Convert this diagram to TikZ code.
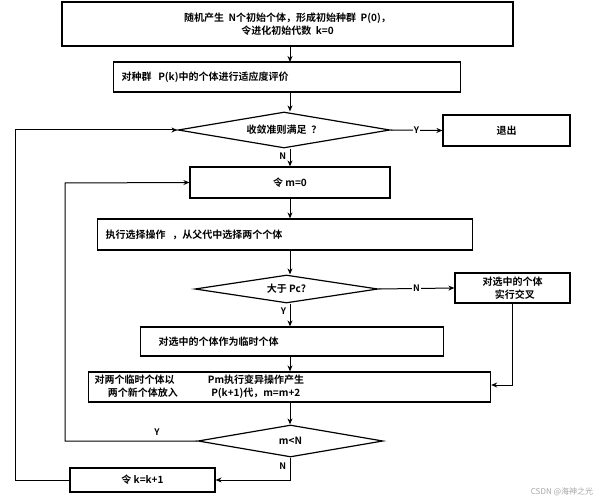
\documentclass[tikz,border=0pt]{standalone}
\usepackage{fontspec}
\setmainfont{Noto Sans CJK SC}[BoldFont={* Bold}]
\usetikzlibrary{shapes.geometric,arrows.meta}
\begin{document}
\begin{tikzpicture}[x=1pt,y=-1pt,
 box/.style={draw,line width=1.2pt,inner sep=0pt,font=\bfseries\fontsize{10}{13}\selectfont},
 lbox/.style={box,align=left,inner xsep=#1,inner ysep=0pt},
 dia/.style={draw,line width=1.2pt,diamond,aspect=5,inner sep=0pt,font=\bfseries\fontsize{10}{13}\selectfont},
 lab/.style={font=\bfseries\fontsize{9}{10}\selectfont},
 arr/.style={line width=1pt,-{Stealth[length=6pt,width=5pt]}},
 ln/.style={line width=1pt}]
\useasboundingbox (0,0) rectangle (611,500);
\node[box,minimum width=451,minimum height=44,align=center] (init) at (287.5,24) {随机产生 \ N个初始个体，形成初始种群 \ P(0)，\\令进化初始代数 \ k=0};
\node[lbox=8pt,text width=331,minimum height=30,anchor=west] (eval) at (113,77) {对种群 \ P(k)中的个体进行适应度评价};
\node[dia,minimum width=212,minimum height=36] (conv) at (284,130) {收敛准则满足 \ ？};
\node[box,minimum width=127,minimum height=31] (exit) at (506.5,130.5) {退出};
\node[box,minimum width=200,minimum height=31] (m0) at (290,182.5) {令 m=0};
\node[lbox=8pt,text width=359,minimum height=31,anchor=west] (sel) at (97,234.5) {执行选择操作 \ ，从父代中选择两个个体};
\node[dia,minimum width=183,minimum height=28] (pc) at (286.5,289) {大于 Pc?};
\node[box,minimum width=115,minimum height=30,align=center] (cross) at (512.5,288) {对选中的个体\\\ \ 实行交叉};
\node[lbox=18pt,text width=267,minimum height=29,anchor=west] (tmp) at (140,341.5) {对选中的个体作为临时个体};
\node[lbox=6pt,text width=390,minimum height=30,anchor=west] (mut) at (88,387) {对两个临时个体以 \qquad\quad Pm执行变异操作产生\\\quad\ 两个新个体放入 \qquad\quad P(k+1)代，m=m+2};
\node[dia,minimum width=185,minimum height=32] (mn) at (290.5,441) {m<N};
\node[box,minimum width=145,minimum height=24] (kk) at (142.5,480) {令 k=k+1};
\draw[arr] (290,46) -- (290,62);
\draw[arr] (290,92) -- (conv.north -| 290,0);
\draw[arr] (conv.east) -- node[lab,fill=white,inner sep=1pt]{Y} (exit.west);
\draw[arr] (conv.south -| 290,0) -- node[lab,left,pos=0.4]{N} (m0.north -| 290,0);
\draw[arr] (m0.south) -- (sel.north -| m0.south);
\draw[arr] (sel.south -| 290,0) -- (pc.north -| 290,0);
\draw[arr] (pc.east) -- node[lab,fill=white,inner sep=1pt]{N} (cross.west);
\draw[arr] (pc.south -| 290,0) -- node[lab,left,pos=0.35]{Y} (tmp.north -| 290,0);
\draw[arr] (tmp.south -| 290,0) -- (mut.north -| 290,0);
\draw[arr] (cross.south) |- (mut.east |- 0,385);
\draw[arr] (mut.south -| 290,0) -- (mn.north -| 290,0);
\draw[arr] (mn.west) -- (65,441) -- (65,183) -- (m0.west);
\node[lab] (ylab) at (157,432) {Y};
\draw[arr] (mn.south -| 290,0) -- node[lab,left,pos=0.4]{N} (290,480) -- (kk.east);
\draw[arr] (kk.west) -- (15,480) -- (15,130) -- (conv.west);
\node[font=\fontsize{8}{9}\selectfont,text=gray!70] (wm) at (562,492) {CSDN @海神之光};
\end{tikzpicture}
\end{document}
